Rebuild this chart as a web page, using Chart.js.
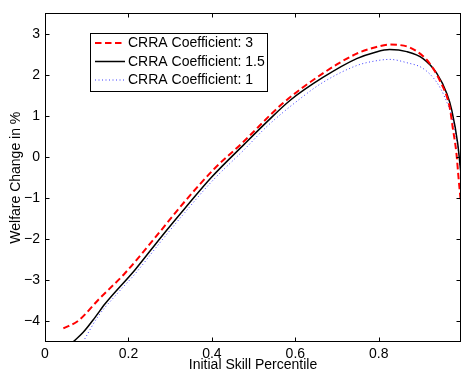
<!DOCTYPE html>
<html>
<head>
<meta charset="utf-8">
<script src="https://cdn.jsdelivr.net/npm/chart.js@4/dist/chart.umd.min.js"></script>
<style>
  html, body { margin: 0; padding: 0; background: #fff; }
  #wrap { width: 461px; height: 372px; }
</style>
</head>
<body>
<div id="wrap"><canvas id="welfareChart" width="461" height="372"></canvas></div>
<script>
// values
const xTicks = [0, 0.2, 0.4, 0.6, 0.8];
const yTicks = [-4, -3, -2, -1, 0, 1, 2, 3];

const redX = [0.044, 0.08, 0.128, 0.192, 0.263, 0.335, 0.407, 0.471, 0.57, 0.666, 0.747, 0.79, 0.826, 0.85, 0.874, 0.905, 0.922, 0.946, 0.97, 0.977, 0.986, 0.991, 0.996];
const redY = [-4.17, -3.98, -3.47, -2.82, -1.97, -1.08, -0.27, 0.33, 1.31, 2.04, 2.52, 2.67, 2.74, 2.73, 2.67, 2.47, 2.28, 1.87, 1.21, 0.73, 0.1, -0.49, -1.04];

const blackX = [0.067, 0.091, 0.12, 0.144, 0.216, 0.2795, 0.335, 0.399, 0.479, 0.53, 0.587, 0.666, 0.747, 0.79, 0.826, 0.867, 0.906, 0.939, 0.963, 0.975, 0.989, 0.996];
const blackY = [-4.5, -4.27, -3.9, -3.57, -2.74, -1.93, -1.25, -0.49, 0.33, 0.84, 1.38, 1.94, 2.4, 2.55, 2.62, 2.57, 2.4, 2.04, 1.55, 1.14, 0.34, -0.32];

const blueX = [0.091, 0.127, 0.175, 0.216, 0.2795, 0.335, 0.399, 0.479, 0.53, 0.611, 0.666, 0.747, 0.79, 0.826, 0.867, 0.906, 0.939, 0.958, 0.977, 0.99, 0.996];
const blueY = [-4.5, -3.88, -3.3, -2.84, -2.03, -1.35, -0.6, 0.2, 0.73, 1.42, 1.82, 2.23, 2.34, 2.38, 2.3, 2.16, 1.82, 1.46, 0.9, 0.2, -0.3];

const labels = ['CRRA Coefficient: 3', 'CRRA Coefficient: 1.5', 'CRRA Coefficient: 1'];

function pts(xs, ys) {
    return xs.map((x, i) => ({ x: x, y: ys[i] }));
}

const FONT = '"Liberation Sans", Arial, Helvetica, sans-serif';

//frame with inward ticks, matlab style
const framePlugin = {
    id: 'frame',
    afterDraw(chart) {
        const { ctx, chartArea: a, scales } = chart;
        const L = Math.round(a.left) + 0.5, R = Math.round(a.right) - 0.5;
        const T = Math.round(a.top) + 0.5, B = Math.round(a.bottom) - 0.5;
        ctx.save();
        ctx.strokeStyle = '#000';
        ctx.lineWidth = 1;
        ctx.strokeRect(L, T, R - L, B - T);
        ctx.beginPath();
        xTicks.forEach(v => {
            const px = Math.round(scales.x.getPixelForValue(v)) + 0.5;
            ctx.moveTo(px, B); ctx.lineTo(px, B - 4);
            ctx.moveTo(px, T); ctx.lineTo(px, T + 4);
        });
        yTicks.forEach(v => {
            const py = Math.round(scales.y.getPixelForValue(v)) + 0.5;
            ctx.moveTo(L, py); ctx.lineTo(L + 4, py);
            ctx.moveTo(R, py); ctx.lineTo(R - 4, py);
        });
        ctx.stroke();
        ctx.restore();
    }
};

//legend box inside the plot
const legendPlugin = {
    id: 'boxLegend',
    afterDraw(chart) {
        const ctx = chart.ctx;
        ctx.save();
        ctx.fillStyle = '#fff';
        ctx.fillRect(90.5, 33.5, 177, 58);
        ctx.strokeStyle = '#000';
        ctx.lineWidth = 1;
        ctx.strokeRect(90.5, 33.5, 177, 58);
        const rows = [43, 61.5, 80];
        chart.data.datasets.forEach((ds, i) => {
            ctx.beginPath();
            ctx.strokeStyle = ds.borderColor;
            ctx.lineWidth = ds.borderWidth;
            ctx.setLineDash(ds.borderDash || []);
            ctx.moveTo(95, rows[i]);
            ctx.lineTo(125, rows[i]);
            ctx.stroke();
            ctx.setLineDash([]);
            ctx.fillStyle = '#000';
            ctx.font = '14px ' + FONT;
            ctx.textBaseline = 'middle';
            ctx.textAlign = 'left';
            ctx.fillText(ds.label, 128, rows[i] + 0.5);
        });
        ctx.restore();
    }
};

const config = {
    type: 'line',
    data: {
        datasets: [
            { label: labels[0], data: pts(redX, redY), borderColor: '#ff0000', borderWidth: 2, borderDash: [6.5, 3.5] },
            { label: labels[1], data: pts(blackX, blackY), borderColor: '#000000', borderWidth: 1.5 },
            { label: labels[2], data: pts(blueX, blueY), borderColor: '#3a3aff', borderWidth: 1, borderDash: [1, 2.5] }
        ]
    },
    options: {
        responsive: false,
        animation: false,
        parsing: false,
        cubicInterpolationMode: 'monotone',
        elements: { point: { radius: 0 } },
        layout: { padding: { top: 12, right: 0, left: 0, bottom: 0 } },
        plugins: { legend: { display: false }, tooltip: { enabled: false } },
        scales: {
            x: {
                type: 'linear', min: 0, max: 0.997,
                grid: { display: false, drawTicks: false },
                border: { display: false },
                afterBuildTicks: s => { s.ticks = xTicks.map(v => ({ value: v })); },
                afterFit: s => { s.height = 30; },
                ticks: { color: '#000', padding: 4, font: { size: 14, family: FONT } },
                title: { display: true, text: 'Initial Skill Percentile', color: '#000', font: { size: 14, family: FONT }, padding: { top: 0, bottom: -2 } }
            },
            y: {
                type: 'linear', min: -4.5, max: 3.5,
                grid: { display: false, drawTicks: false },
                border: { display: false },
                afterBuildTicks: s => { s.ticks = yTicks.map(v => ({ value: v })); },
                afterFit: s => { s.width = 45; },
                ticks: {
                    color: '#000', padding: 5, font: { size: 14, family: FONT },
                    callback: v => (v < 0 ? '\u2212' + Math.abs(v) : String(v))
                },
                title: { display: true, text: 'Welfare Change in %', color: '#000', font: { size: 14, family: FONT }, padding: { top: 8, bottom: 0 } }
            }
        }
    },
    plugins: [framePlugin, legendPlugin]
};

const ctx = document.getElementById('welfareChart').getContext('2d');
const welfareChart = new Chart(ctx, config);
</script>
</body>
</html>
